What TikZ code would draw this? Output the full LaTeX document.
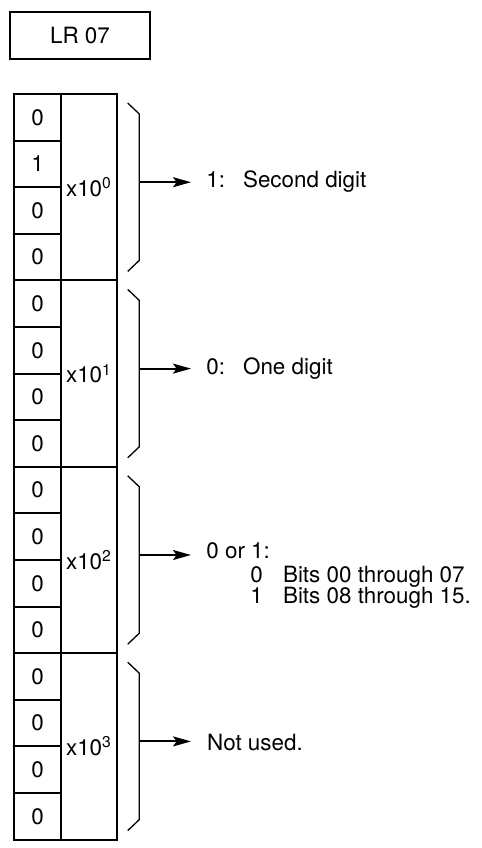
\documentclass[tikz,border=0pt]{standalone}
\usepackage{fontspec}
\setmainfont{TeX Gyre Heros}
\usetikzlibrary{arrows.meta}
\begin{document}
\begin{tikzpicture}[x=0.5pt,y=-0.5pt,
  every node/.style={font=\fontsize{11.2}{13}\selectfont, inner sep=0pt},
  frame/.style={draw, line width=1pt},
  cell/.style={frame, minimum width=23.5pt, minimum height=23.3pt},
  grp/.style={frame, minimum width=28pt, minimum height=93.2pt},
  brace/.style={line width=0.65pt, line join=miter},
  pointer/.style={line width=1pt, -{Stealth[length=9pt,width=5pt,inset=1.8pt]}},
  lbl/.style={anchor=base west}]
\useasboundingbox (0,0) rectangle (482,848);
\node[frame, minimum width=70pt, minimum height=23.5pt] (lr) at (80,35.5) {LR 07};
% bit cells
\foreach \i/\v in {0/0,1/1,2/0,3/0,4/0,5/0,6/0,7/0,8/0,9/0,10/0,11/0,12/0,13/0,14/0,15/0}{
  \node[cell] (b\i) at (37.5,{94+(\i+0.5)*46.6}) {\v};
}
% groups, braces and pointers
\foreach \g in {0,1,2,3}{
  \pgfmathsetmacro{\T}{94+4*\g*46.6}
  \pgfmathsetmacro{\B}{\T+186.4}
  \pgfmathsetmacro{\C}{\T+93.2}
  \node[grp] (g\g) at (89,\C) {x10\textsuperscript{\g}};
  \draw[brace] (127.7,\T+9) -- (139.3,\T+20) -- (139.3,\B-20) -- (127.7,\B-9);
  \coordinate (s\g) at (139.3,\C-5);
  \coordinate (e\g) at (191,\C-5);
  \draw[pointer] (s\g) -- (e\g);
}
\node[lbl] (t0) at (206,187) {\makebox[18.35pt][l]{1:}Second digit};
\node[lbl] (t1) at (206,374.3) {\makebox[18.35pt][l]{0:}One digit};
\node[lbl] (t2a) at (206,558.5) {0 or 1:};
\node[lbl] (t2b) at (250,582.5) {\makebox[16.35pt][l]{0}Bits 00 through 07};
\node[lbl] (t2c) at (250,603) {\makebox[16.35pt][l]{1}Bits 08 through 15.};
\node[lbl] (t3) at (206.7,750.7) {Not used.};
\end{tikzpicture}
\end{document}
